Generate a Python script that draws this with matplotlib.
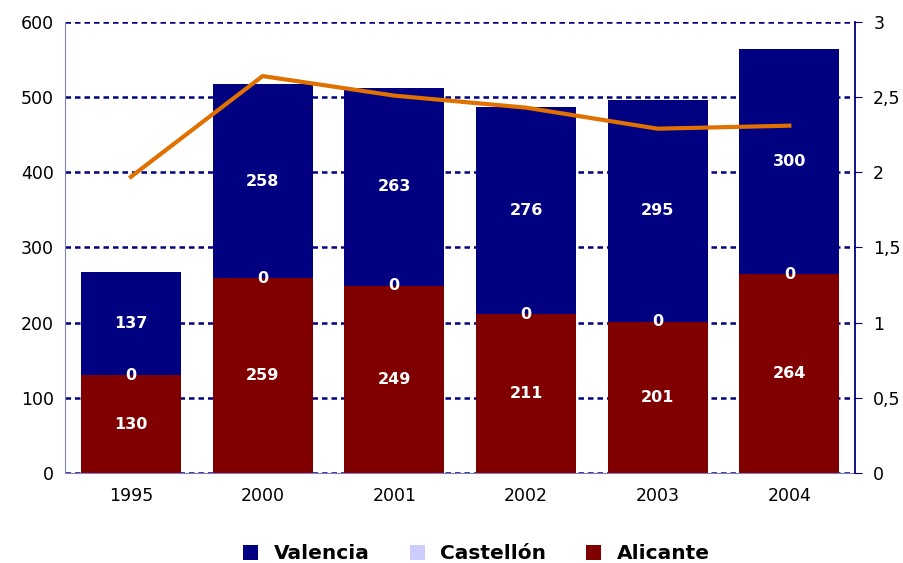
import matplotlib.pyplot as plt
import numpy as np

years = ["1995", "2000", "2001", "2002", "2003", "2004"]
alicante = [130, 259, 249, 211, 201, 264]
castellon = [0, 0, 0, 0, 0, 0]
valencia = [137, 258, 263, 276, 295, 300]
ratio = [1.97, 2.64, 2.51, 2.43, 2.29, 2.31]

navy = "#000080"
x = np.arange(len(years))
w = 0.76

fig = plt.figure(figsize=(9.04, 5.63), dpi=100)
ax = fig.add_axes([0.072, 0.16, 0.874, 0.801])

ax.set_axisbelow(True)
ax.yaxis.grid(True, color=navy, linestyle=(0, (2.2, 1.6)), linewidth=1.8)

alic = np.array(alicante)
cast = np.array(castellon)
vale = np.array(valencia)
b_a = ax.bar(x, alic, w, color="#800000", label="Alicante")
b_c = ax.bar(x, cast, w, bottom=alic, color="#CCCCFF", label="Castellón")
b_v = ax.bar(x, vale, w, bottom=alic + cast, color=navy, label="Valencia")

# value labels centred in each segment, Castellón sits on the boundary
lbl = dict(ha="center", va="center", color="white", fontweight="bold", fontsize=11.5)
for i in range(len(years)):
    ax.text(x[i], alic[i] / 2, str(alicante[i]), **lbl)
    ax.text(x[i], alic[i] + cast[i], str(castellon[i]), **lbl)
    ax.text(x[i], alic[i] + cast[i] + vale[i] / 2, str(valencia[i]), **lbl)

ax.set_xlim(-0.5, len(years) - 0.5)
ax.set_ylim(0, 600)
ax.set_yticks(range(0, 601, 100))
ax.set_xticks(x)
ax.set_xticklabels(years)
ax.tick_params(axis="both", labelsize=12.5, length=0, pad=8)
ax.tick_params(axis="x", pad=10)
for s in ["top", "right"]:
    ax.spines[s].set_visible(False)
ax.spines["left"].set_color("#8080c0")
ax.spines["bottom"].set_color("#8080c0")

ax2 = ax.twinx()
ax2.plot(x, ratio, color="#E07000", linewidth=3)
ax2.set_ylim(0, 3)
ax2.set_yticks([0, 0.5, 1, 1.5, 2, 2.5, 3])
ax2.set_yticklabels(["0", "0,5", "1", "1,5", "2", "2,5", "3"])
ax2.tick_params(axis="y", labelsize=12.5, length=5, color=navy, pad=8, direction="out")
for s in ["top", "left", "bottom"]:
    ax2.spines[s].set_visible(False)
ax2.spines["right"].set_color(navy)
ax2.spines["right"].set_linewidth(1.3)

fig.legend([b_v, b_c, b_a], ["Valencia", "Castellón", "Alicante"],
           loc="center", bbox_to_anchor=(0.527, 0.016), ncol=3, frameon=False,
           prop={"weight": "bold", "size": 14.5}, handlelength=0.75, handleheight=0.75,
           columnspacing=2.0, handletextpad=0.75)

fig.savefig("out.png", dpi=100)
